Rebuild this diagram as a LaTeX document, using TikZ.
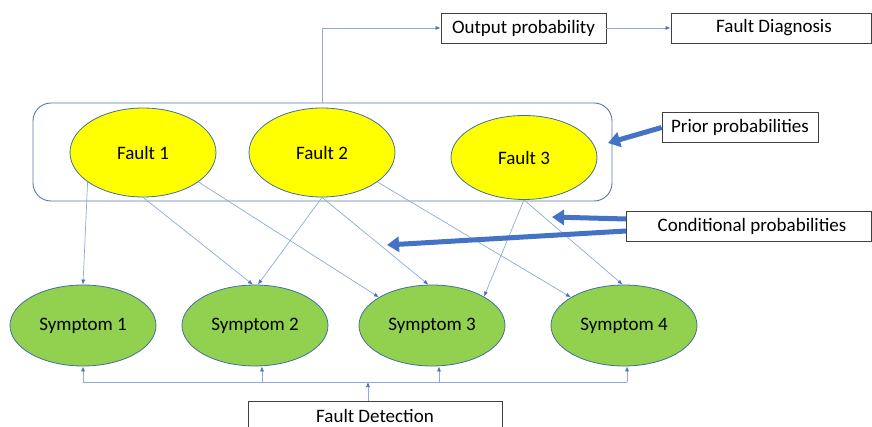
\documentclass[tikz,border=0pt]{standalone}
\usepackage{fontspec}
\setmainfont{Carlito}
\usetikzlibrary{shapes.geometric,arrows.meta,calc}
\definecolor{bord}{HTML}{41719C}
\definecolor{faultyellow}{HTML}{FFFF00}
\definecolor{symgreen}{HTML}{92D050}
\definecolor{thinblue}{HTML}{8FAADC}
\definecolor{tipblue}{HTML}{4472C4}
\definecolor{framecol}{HTML}{5A78AA}
\begin{document}
\begin{tikzpicture}[x=1pt,y=-1pt,
  lbl/.style={font=\fontsize{19}{22}\selectfont},
  fault/.style={ellipse,draw=bord,line width=0.8pt,fill=faultyellow,minimum width=146pt,minimum height=89pt,inner sep=0pt,lbl},
  symptom/.style={ellipse,draw=bord,line width=0.8pt,fill=symgreen,minimum width=146pt,minimum height=81pt,inner sep=0pt,lbl},
  tbox/.style={draw=black!75,line width=0.8pt,fill=white,inner sep=0pt,lbl},
  thinarrow/.style={draw=thinblue,line width=0.7pt,-{Latex[length=5pt,width=4pt,color=tipblue]}},
  thinline/.style={draw=thinblue,line width=0.7pt},
  thickarrow/.style={draw=tipblue,line width=5pt,-{Triangle[length=12pt,width=15pt]}}
]
\useasboundingbox (0,0) rectangle (872,427);
\fill[white] (0,0) rectangle (872,427);

% frame round the faults
\node[draw=framecol,line width=0.9pt,rounded corners=18pt,minimum width=579pt,minimum height=98pt,inner sep=0pt] (frame) at (322.5,152) {};

% faults
\node[fault] (f1) at (143,152.5) {Fault 1};
\node[fault] (f2) at (322,152.5) {Fault 2};
\node[fault,minimum height=84pt] (f3) at (524,157.5) {Fault 3};

% symptoms
\node[symptom] (s1) at (83,325.5) {Symptom 1};
\node[symptom] (s2) at (255,325.5) {Symptom 2};
\node[symptom] (s3) at (432,325.5) {Symptom 3};
\node[symptom] (s4) at (624,325.5) {Symptom 4};

% text boxes
\node[tbox,minimum width=165pt,minimum height=30pt] (op) at (523.5,28) {\raisebox{-1.5pt}{Output probability}};
\node[tbox,minimum width=200pt,minimum height=30pt] (fdiag) at (771,28) {\hspace*{6pt}\raisebox{-1.5pt}{Fault Diagnosis}};
\node[tbox,minimum width=156pt,minimum height=30pt] (prior) at (740,127.5) {Prior probabilities};
\node[tbox,minimum width=245pt,minimum height=30pt] (cond) at (748.5,226.5) {\hspace*{7pt}Conditional probabilities};
\node[tbox,minimum width=254pt,minimum height=32pt] (fdet) at (375,417) {\raisebox{1.5pt}{Fault Detection}};

% top connectors
\draw[thinarrow] (frame.north) |- (op.west);
\draw[thinarrow] (op.east) -- (fdiag.west);

% fault -> symptom
\draw[thinarrow] (f1.208) -- (s1.north);
\draw[thinarrow] (f1.south) -- (s2.93);
\draw[thinarrow] (f1.332) -- (s3.152);
\draw[thinarrow] (f2.south) -- (s2.86);
\draw[thinarrow] (f2.south) -- (s3.95);
\draw[thinarrow] (f2.332) -- (s4.152);
\draw[thinarrow] (f3.south) -- (s3.29);
\draw[thinarrow] (f3.south) -- (s4.92);

% thick arrows
\coordinate (ptip) at (608,143);
\coordinate (ctail1) at (626,219);
\coordinate (ctip1) at (552,217);
\coordinate (ctail2) at (626,231);
\coordinate (ctip2) at (387,245);
\draw[thickarrow] (prior.west) -- (ptip);
\draw[thickarrow] (ctail1) -- (ctip1);
\draw[thickarrow] (ctail2) -- (ctip2);

% fault detection bus
\coordinate (bus) at (368,382);
\coordinate (b1) at (83,382);
\coordinate (b2) at (262,382);
\coordinate (b3) at (439,382);
\coordinate (b4) at (627,382);
\draw[thinarrow] (fdet.north -| bus) -- (bus);
\draw[thinline] (b1) -- (b4);
\draw[thinarrow] (b1) -- (s1.south);
\draw[thinarrow] (b2) -- (b2 |- s2.south);
\draw[thinarrow] (b3) -- (b3 |- s3.south);
\draw[thinarrow] (b4) -- (b4 |- s4.south);
\end{tikzpicture}
\end{document}
